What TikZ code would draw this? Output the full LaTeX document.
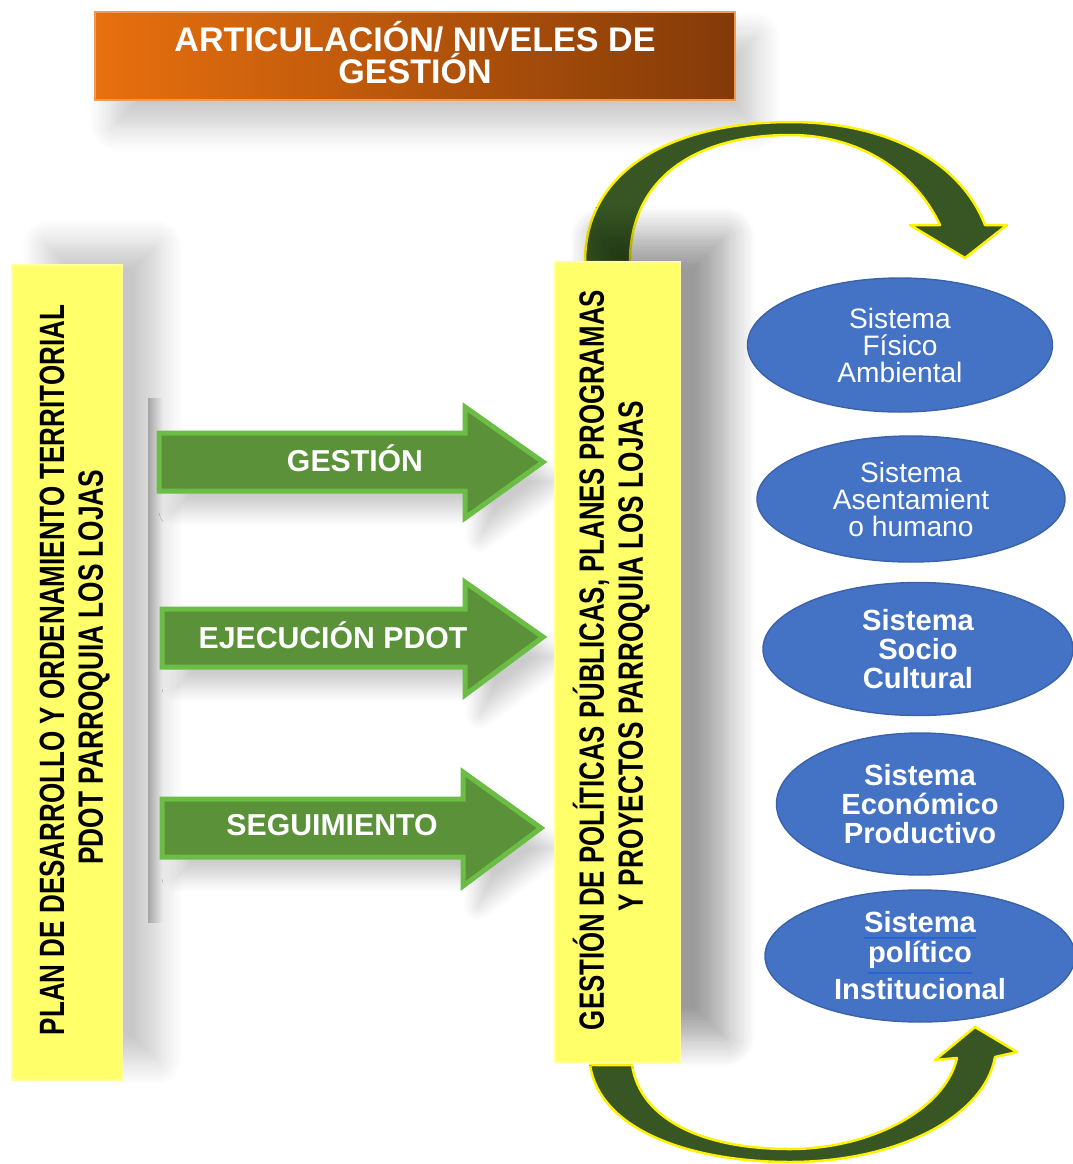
\documentclass[tikz,border=0pt]{standalone}
\usepackage{fontspec}
\setmainfont{Liberation Sans}
\usetikzlibrary{shadows.blur,shapes.geometric}
\definecolor{titleL}{HTML}{E8700E}
\definecolor{titleR}{HTML}{843A08}
\definecolor{barY}{HTML}{FFFF6A}
\definecolor{barEdge}{HTML}{FFFF9E}
\definecolor{grnBody}{HTML}{5A9139}
\definecolor{grnEdge}{HTML}{6CBD45}
\definecolor{dkgreen}{HTML}{375623}
\definecolor{ellblue}{HTML}{4472C4}
\definecolor{elledge}{HTML}{3A62AA}
\definecolor{linkblue}{HTML}{2A63D8}
\begin{document}
\begin{tikzpicture}[x=0.1mm,y=-0.1mm,
  titlebox/.style={rectangle, left color=titleL, right color=titleR, draw=titleL!70!white, line width=0.3pt,
    minimum width=64mm, minimum height=8.8mm, inner sep=0,
    blur shadow={shadow xshift=2mm, shadow yshift=-2.5mm, shadow blur radius=2.5mm, shadow blur steps=12, shadow opacity=22}},
  barbox/.style={rectangle, fill=barY, draw=barEdge, line width=0.6pt, inner sep=0,
    blur shadow={shadow xshift=3.5mm, shadow yshift=2mm, shadow blur radius=2.5mm, shadow blur steps=12, shadow opacity=22}},
  bartext/.style={rotate=90, inner sep=0, font=\bfseries\fontsize{10}{12}\selectfont},
  grnarrow/.style={fill=grnBody, draw=grnEdge, line width=0.5mm, line join=miter,
    blur shadow={shadow xshift=1.5mm, shadow yshift=-2mm, shadow blur radius=1.5mm, shadow blur steps=10, shadow opacity=20}},
  arrowtext/.style={text=white, font=\bfseries\fontsize{8.6}{10}\selectfont, inner sep=0},
  curvearrow/.style={fill=dkgreen, draw=yellow, line width=0.25mm, line join=round},
  sysell/.style={ellipse, fill=ellblue, draw=elledge, line width=0.4pt, text=white, align=center, inner sep=0,
    font=\fontsize{8}{7.7}\selectfont},
  sysellb/.style={sysell, font=\bfseries\fontsize{8.3}{8.3}\selectfont}]
\useasboundingbox (0,0) rectangle (1073,1164);

% title
\node[titlebox] (title) at (415,56) {};
\node[text=white, align=center, font=\bfseries\fontsize{9.7}{9.1}\selectfont, inner sep=0] (titletext) at (415,53)
  {ARTICULACIÓN/ NIVELES DE\\GESTIÓN};

% left bar
\node[barbox, minimum width=11mm, minimum height=81.5mm] (lbar) at (67,672.5) {};
\node[bartext] (lt1) at (52,670) {\resizebox{73mm}{\height}{PLAN DE DESARROLLO Y ORDENAMIENTO TERRITORIAL}};
\node[bartext] (lt2) at (94,667) {\resizebox{39.5mm}{\height}{PDOT PARROQUIA LOS LOJAS}};

% gray connector bar
\node[rectangle, left color=gray!70, right color=gray!15, minimum width=1.5mm, minimum height=52.4mm, inner sep=0] (gbar) at (155.5,660) {};

% green arrows
\path[grnarrow] (159,433) -- (465,433) -- (465,407) -- (543,462) -- (465,518) -- (465,491) -- (159,491) -- cycle;
\path[grnarrow] (162,609) -- (465,609) -- (465,582) -- (543,637) -- (465,695) -- (465,667) -- (162,667) -- cycle;
\path[grnarrow] (162,799) -- (463,799) -- (463,772) -- (541,828) -- (463,886) -- (463,857) -- (162,857) -- cycle;
\node[arrowtext] (g1) at (355,458) {GESTIÓN};
\node[arrowtext] (g2) at (333,635) {EJECUCIÓN PDOT};
\node[arrowtext] (g3) at (332,825) {SEGUIMIENTO};

% curved arrows
\path[curvearrow] (585,262) .. controls (585,165) and (680,122) .. (790,122)
  .. controls (885,122) and (960,160) .. (985,225) -- (1007,225) -- (965,258) -- (910,225) -- (940,225)
  .. controls (915,172) and (860,135) .. (790,135) .. controls (700,135) and (630,175) .. (630,262) -- cycle;
\path[curvearrow] (590,1065) .. controls (600,1130) and (690,1162) .. (790,1162)
  .. controls (900,1162) and (985,1115) .. (995,1057) -- (1017,1052) -- (975,1027) -- (935,1060) -- (957,1058)
  .. controls (945,1110) and (870,1149) .. (790,1149) .. controls (700,1149) and (640,1118) .. (632,1065) -- cycle;

% right bar
\node[barbox, minimum width=12.5mm, minimum height=80mm,
  blur shadow={shadow xshift=4.5mm, shadow yshift=2.5mm, shadow blur radius=3mm, shadow blur steps=12, shadow opacity=22}] (rbar) at (617.5,662) {};
\node[bartext] (rt1) at (591,660) {\resizebox{74mm}{\height}{GESTIÓN DE POLÍTICAS PÚBLICAS, PLANES PROGRAMAS}};
\node[bartext] (rt2) at (634,656) {\resizebox{51mm}{\height}{Y PROYECTOS PARROQUIA LOS LOJAS}};

% systems
\node[sysell, minimum width=30.5mm, minimum height=13.4mm] (s1) at (900,345) {Sistema\\Físico\\Ambiental};
\node[sysell, minimum width=30.8mm, minimum height=12.6mm] (s2) at (911,499) {Sistema\\Asentamient\\o humano};
\node[sysellb, minimum width=31mm, minimum height=13.3mm] (s3) at (918,649) {Sistema\\Socio\\Cultural};
\node[sysellb, minimum width=28.7mm, minimum height=14.2mm] (s4) at (920,804) {Sistema\\Económico\\Productivo};
\node[sysellb, minimum width=31mm, minimum height=13.2mm] (s5) at (920,956)
  {\textcolor{linkblue}{\underline{\textcolor{white}{Sistema}}}\\\textcolor{linkblue}{\underline{\textcolor{white}{político}}}\\Institucional};
\end{tikzpicture}
\end{document}
